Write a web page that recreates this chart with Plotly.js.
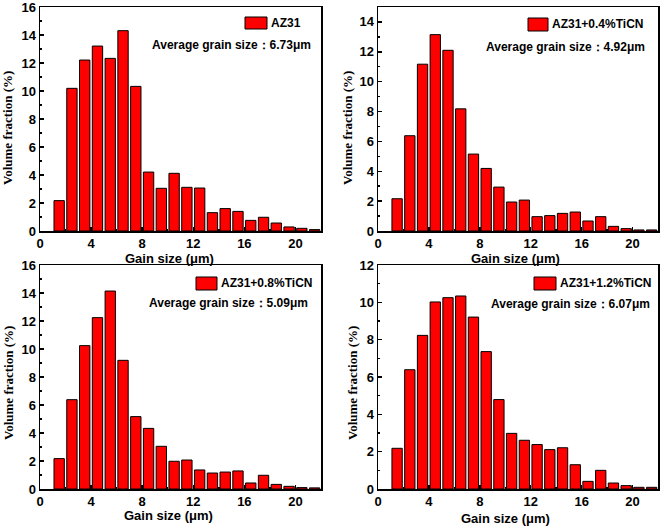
<!DOCTYPE html>
<html>
<head>
<meta charset="utf-8">
<script src="https://cdn.plot.ly/plotly-3.0.1.min.js"></script>
<style>html,body{margin:0;padding:0;background:#fff;}#chart{width:661px;height:526px;}</style>
</head>
<body>
<div id="chart"></div>
<script>
// Bin centres (grain size, µm)
const binCenters = [1.5, 2.5, 3.5, 4.5, 5.5, 6.5, 7.5, 8.5, 9.5, 10.5, 11.5, 12.5, 13.5, 14.5, 15.5, 16.5, 17.5, 18.5, 19.5, 20.5, 21.5];

// Volume fraction (%) per sample
const az31 =     [2.17, 10.19, 12.21, 13.21, 12.33, 14.31, 10.33, 4.21, 3.05, 4.12, 3.12, 3.07, 1.31, 1.60, 1.40, 0.76, 0.98, 0.57, 0.29, 0.19, 0.10];
const ticn04 =   [2.16, 6.38, 11.17, 13.15, 12.10, 8.18, 5.15, 4.19, 2.94, 1.94, 2.07, 0.96, 1.03, 1.18, 1.27, 0.67, 0.96, 0.31, 0.16, 0.07, 0.07];
const ticn08 =   [2.17, 6.38, 10.24, 12.24, 14.14, 9.19, 5.17, 4.33, 3.05, 1.98, 2.07, 1.36, 1.14, 1.21, 1.29, 0.43, 0.98, 0.33, 0.19, 0.10, 0.08];
const ticn12 =   [2.18, 6.39, 8.23, 10.02, 10.25, 10.34, 9.21, 7.36, 4.79, 2.98, 2.61, 2.38, 2.11, 2.21, 1.30, 0.41, 1.00, 0.32, 0.18, 0.09, 0.09];

const sampleNames = ["AZ31", "AZ31+0.4%TiCN", "AZ31+0.8%TiCN", "AZ31+1.2%TiCN"];
const avgSizes = ["6.73", "4.92", "5.09", "6.07"];
const xTickVals = [0, 4, 8, 12, 16, 20];
const yMax = [16, 15, 16, 12];
const series = [az31, ticn04, ticn08, ticn12];

const W = 661, H = 526;
const px = v => v / W, py = v => 1 - v / H;

// panel boxes in pixels: [left, right, top, bottom]
const boxes = [[40, 321, 7, 231], [378, 658, 7, 231], [40, 321, 265, 489], [378, 658, 265, 489]];
// axis-title positions in pixels: x-title [cx, cy], y-title [cx, cy]
const titlePos = [
  {xt: [169, 259], yt: [8, 128]},
  {xt: [515, 259], yt: [348, 128]},
  {xt: [168, 515], yt: [8, 383]},
  {xt: [505, 518], yt: [352, 383]}
];

const sans = "Liberation Sans, Arial, sans-serif";
const serif = "Liberation Serif, Times New Roman, serif";

const traces = [];
const layout = {
  width: W, height: H,
  margin: {l: 0, r: 0, t: 0, b: 0},
  paper_bgcolor: "#fff", plot_bgcolor: "#fff",
  showlegend: false,
  bargap: 0.19,
  shapes: [], annotations: []
};

series.forEach((vals, i) => {
  const n = i === 0 ? "" : String(i + 1);
  const b = boxes[i];
  traces.push({
    type: "bar", x: binCenters, y: vals,
    xaxis: "x" + n, yaxis: "y" + n,
    marker: {color: "#ff0000", line: {color: "#000", width: 1}},
    hoverinfo: "skip"
  });
  const tickFont = {family: sans, size: 13, color: "#000", weight: "bold"};
  layout["xaxis" + n] = {
    domain: [px(b[0]), px(b[1])], anchor: "y" + n,
    range: [0, 22], tickvals: xTickVals,
    ticks: "inside", ticklen: 4, tickwidth: 1.5, tickcolor: "#000",
    minor: {dtick: 2, tick0: 0, ticks: "inside", ticklen: 2, tickcolor: "#000"},
    showline: true, linecolor: "#000", linewidth: 1.5, mirror: true,
    showgrid: false, zeroline: false,
    tickfont: tickFont, ticklabeloverflow: "allow"
  };
  layout["yaxis" + n] = {
    domain: [py(b[3]), py(b[2])], anchor: "x" + n,
    range: [0, yMax[i]], dtick: 2,
    ticks: "inside", ticklen: 4, tickwidth: 1.5, tickcolor: "#000",
    minor: {dtick: 1, ticks: "inside", ticklen: 2, tickcolor: "#000"},
    showline: true, linecolor: "#000", linewidth: 1.5, mirror: true,
    showgrid: false, zeroline: false,
    tickfont: tickFont, ticklabeloverflow: "allow"
  };
  const t = titlePos[i];
  layout.annotations.push({xref: "paper", yref: "paper", x: px(t.xt[0]), y: py(t.xt[1]),
    xanchor: "center", yanchor: "middle", showarrow: false, text: "Gain size (μm)",
    font: {family: sans, size: 13, color: "#000", weight: "bold"}});
  layout.annotations.push({xref: "paper", yref: "paper", x: px(t.yt[0]), y: py(t.yt[1]),
    xanchor: "center", yanchor: "middle", showarrow: false, textangle: -90, text: "Volume fraction (%)",
    font: {family: serif, size: 13, color: "#000", weight: "bold"}});
});

// legend swatches and labels (paper coordinates)
const legendPos = [
  {box: [245, 267, 17, 29], name: [269, 23], avg: [313, 45]},
  {box: [528, 548, 18, 31], name: [550, 24], avg: [647, 47]},
  {box: [196, 217, 277, 290], name: [219, 283], avg: [310, 303]},
  {box: [534, 556, 277, 290], name: [558, 283], avg: [652, 304]}
];
legendPos.forEach((p, i) => {
  layout.shapes.push({type: "rect", xref: "paper", yref: "paper",
    x0: px(p.box[0]), x1: px(p.box[1]), y0: py(p.box[3]), y1: py(p.box[2]),
    fillcolor: "#ff0000", line: {color: "#000", width: 1}});
  layout.annotations.push({xref: "paper", yref: "paper", x: px(p.name[0]), y: py(p.name[1]),
    xanchor: "left", yanchor: "middle", showarrow: false, text: sampleNames[i],
    font: {family: sans, size: 12, color: "#000", weight: "bold"}});
  layout.annotations.push({xref: "paper", yref: "paper", x: px(p.avg[0]), y: py(p.avg[1]),
    xanchor: "right", yanchor: "middle", showarrow: false,
    text: "Average grain size：" + avgSizes[i] + "μm",
    font: {family: sans, size: 12, color: "#000", weight: "bold"}});
});

Plotly.newPlot("chart", traces, layout, {staticPlot: true, displayModeBar: false});
</script>
</body>
</html>
